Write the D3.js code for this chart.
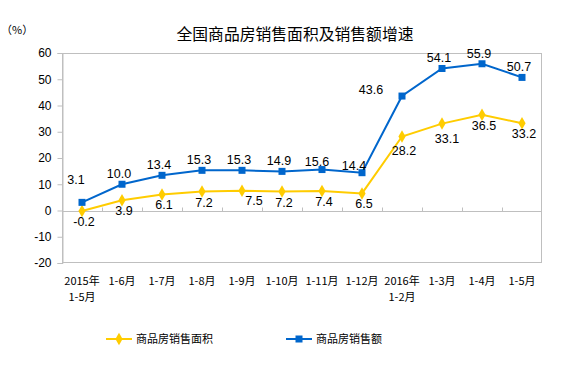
<!DOCTYPE html>
<html><head><meta charset="utf-8">
<script src="https://cdn.jsdelivr.net/npm/d3@7/dist/d3.min.js"></script>
<style>
body{margin:0;background:#fff;}
text{font-family:"Liberation Sans",Arial,"Noto Sans CJK SC",sans-serif;}
.cjk{font-family:"Noto Sans CJK SC","Liberation Sans",sans-serif;}
</style></head>
<body><svg id="c" width="572" height="365"></svg>
<script>
const categories = [["2015年","1-5月"],["1-6月"],["1-7月"],["1-8月"],["1-9月"],["1-10月"],["1-11月"],["1-12月"],["2016年","1-2月"],["1-3月"],["1-4月"],["1-5月"]];
const areaGrowth = [-0.2,3.9,6.1,7.2,7.5,7.2,7.4,6.5,28.2,33.1,36.5,33.2];
const salesGrowth = [3.1,10.0,13.4,15.3,15.3,14.9,15.6,14.4,43.6,54.1,55.9,50.7];
const yTicks = [-20,-10,0,10,20,30,40,50,60];
const seriesNames = ["商品房销售面积","商品房销售额"];
const title = "全国商品房销售面积及销售额增速";
const unit = "（%）";

const svg = d3.select("#c");
const L=62,R=542,T=53,B=263;
const x = d3.scaleBand().domain(d3.range(categories.length)).range([L,R]);
const y = d3.scaleLinear().domain([-20,60]).range([B,T]);
const cx = i => x(i)+x.bandwidth()/2;
const gray="#BFBFBF", blue="#0066CC", yellow="#FFCC00";

svg.append("text").attr("class","cjk").attr("x",295).attr("y",40).attr("text-anchor","middle")
  .attr("font-size",15.8).attr("fill","#000").text(title);
svg.append("text").attr("class","cjk").attr("x",1).attr("y",34).attr("font-size",11).text(unit);

// frame
svg.append("rect").attr("x",L+0.5).attr("y",T+0.5).attr("width",R-L-1).attr("height",B-T-1)
  .attr("fill","none").attr("stroke",gray);

// y axis
const ya = svg.append("g").attr("transform",`translate(${L+0.5},0)`)
  .call(d3.axisLeft(y).tickValues(yTicks).tickSize(5).tickPadding(6).tickFormat(d=>d));
ya.select(".domain").attr("stroke",gray);
ya.selectAll(".tick line").attr("stroke",gray);
ya.selectAll(".tick text").attr("font-size",12).attr("fill","#000").attr("font-family","Liberation Sans, Arial");

// zero line with ticks upward
const y0 = Math.round(y(0))+0.5;
svg.append("line").attr("x1",L).attr("x2",R).attr("y1",y0).attr("y2",y0).attr("stroke",gray);
d3.range(1,categories.length).forEach(i=>{
  const xx=Math.round(x(i))+0.5;
  svg.append("line").attr("x1",xx).attr("x2",xx).attr("y1",y0-4).attr("y2",y0).attr("stroke",gray);
});

// x labels
categories.forEach((c,i)=>{
  c.forEach((s,j)=>{
    svg.append("text").attr("class","cjk").attr("x",cx(i)).attr("y",285+j*16).attr("text-anchor","middle")
      .attr("font-size",11).attr("fill","#000").text(s);
  });
});

const line = d3.line().x((d,i)=>cx(i)).y(d=>y(d));
svg.append("path").datum(areaGrowth).attr("d",line).attr("fill","none").attr("stroke",yellow).attr("stroke-width",2);
svg.append("path").datum(salesGrowth).attr("d",line).attr("fill","none").attr("stroke",blue).attr("stroke-width",2);

const diamond = d3.symbol().type(d3.symbolDiamond).size(45);
svg.append("g").selectAll("path").data(areaGrowth).join("path")
  .attr("transform",(d,i)=>`translate(${cx(i)},${y(d)})`).attr("d",diamond).attr("fill",yellow);
svg.append("g").selectAll("rect").data(salesGrowth).join("rect")
  .attr("x",(d,i)=>cx(i)-3.5).attr("y",d=>y(d)-3.5).attr("width",7).attr("height",7).attr("fill",blue);

// labels
const blueOff = {0:[-6,-18],8:[-31,-2],6:[-5,-4],7:[-8,-3]};
const yelOff = {4:[12,14],8:[2,19],9:[5,19]};
salesGrowth.forEach((d,i)=>{
  const o = blueOff[i]||[-3,-6];
  svg.append("text").attr("x",cx(i)+o[0]).attr("y",y(d)+o[1]).attr("text-anchor","middle")
    .attr("font-size",12.5).attr("fill","#000").text(d.toFixed(1));
});
areaGrowth.forEach((d,i)=>{
  const o = yelOff[i]||[2,15];
  svg.append("text").attr("x",cx(i)+o[0]).attr("y",y(d)+o[1]).attr("text-anchor","middle")
    .attr("font-size",12.5).attr("fill","#000").text(d.toFixed(1));
});

// legend
const lg=[{c:yellow,x:106,sym:"d"},{c:blue,x:286,sym:"s"}];
lg.forEach((l,k)=>{
  const g=svg.append("g");
  g.append("line").attr("x1",l.x).attr("x2",l.x+26).attr("y1",339).attr("y2",339).attr("stroke",l.c).attr("stroke-width",2);
  if(l.sym==="d") g.append("path").attr("transform",`translate(${l.x+13},339)`).attr("d",diamond).attr("fill",l.c);
  else g.append("rect").attr("x",l.x+9.5).attr("y",335.5).attr("width",7).attr("height",7).attr("fill",l.c);
  g.append("text").attr("class","cjk").attr("x",l.x+30).attr("y",343).attr("font-size",11).attr("fill","#000").text(seriesNames[k]);
});
</script></body></html>
